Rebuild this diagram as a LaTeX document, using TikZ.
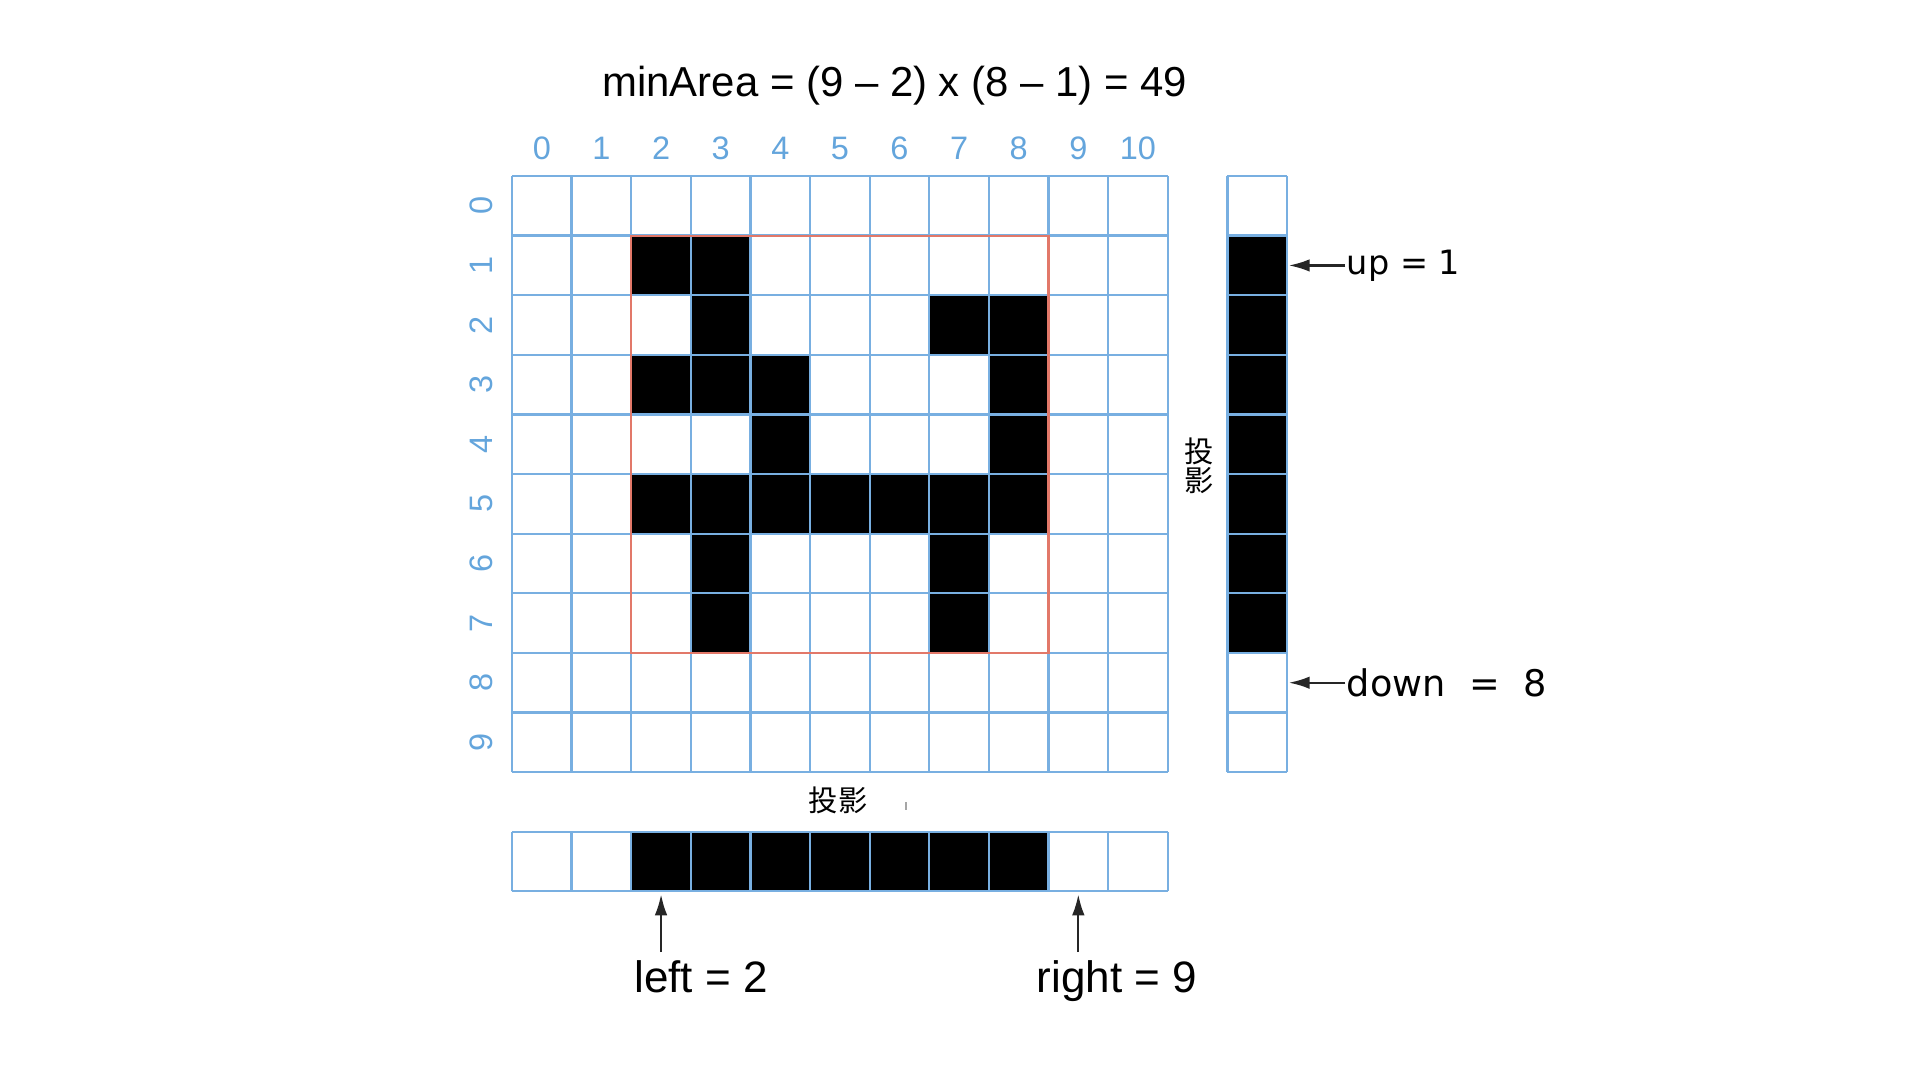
\documentclass[tikz,border=0pt]{standalone}
\usepackage{fontspec}
\setmainfont{Liberation Sans}
\newfontfamily\cjk{Noto Sans CJK SC}
\newfontfamily\dejavu{DejaVu Sans}
\usetikzlibrary{arrows.meta}

\begin{document}
\begin{tikzpicture}[
  gridline/.style={draw=gridblue, line width=1.1pt},
  numlbl/.style={text=numblue, font=\fontsize{15.5}{18}\selectfont, inner sep=0pt},
  bigtxt/.style={font=\fontsize{21}{25}\selectfont, inner sep=4pt},
  ptr/.style={-{Latex[length=10pt,width=6pt]}, line width=1.1pt, black!85}
]
% Grid dimensions
\def\cols{11}
\def\rows{10}

% Colors
\definecolor{gridblue}{RGB}{120,175,225}
\definecolor{numblue}{RGB}{100,165,220}
\definecolor{boxred}{RGB}{226,120,105}

\useasboundingbox (-8.59,2.953) rectangle (23.62,-15.168);

% Black cells of the shape (column/row)
\foreach \c/\r in {2/1,3/1,3/2,7/2,8/2,2/3,3/3,4/3,8/3,4/4,8/4,
                   2/5,3/5,4/5,5/5,6/5,7/5,8/5,3/6,7/6,3/7,7/7} {
  \fill[black] (\c,-\r) rectangle (\c+1,-\r-1);
}

% Projections
\fill[black] (12,-1) rectangle (13,-8);
\fill[black] (2,-11) rectangle (9,-12);

% Draw grid
\draw[gridline] (0,0) grid (\cols,-\rows);
\draw[gridline] (12,0) grid (13,-\rows);
\draw[gridline] (0,-11) grid (\cols,-12);

% Bounding rectangle of the shape
\draw[boxred, line width=1pt] (2,-1) rectangle (9,-8);

% Indices
\foreach \x in {0,...,10} {
  \node[numlbl] (col\x) at (\x+0.5,0.47) {\x};
}
\foreach \y in {0,...,9} {
  \node[numlbl, rotate=90] (row\y) at (-0.52,-\y-0.5) {\y};
}

% Title
\node[font=\fontsize{20}{24}\selectfont, inner sep=0pt] (minarea) at (6.42,1.51)
  {minArea = (9 – 2) x (8 – 1) = 49};

% Projection labels
\node[font=\cjk\fontsize{14}{14}\selectfont, align=center, inner sep=0pt] (projv) at (11.53,-4.86) {投\\影};
\node[font=\cjk\fontsize{14}{16}\selectfont, inner sep=0pt] (projh) at (5.47,-10.47) {投影};
\draw[gray!70, line width=0.6pt] (6.61,-10.50) -- (6.61,-10.64);

% up / down
\coordinate (upcell) at (13.03,-1.5);
\coordinate (downcell) at (13.03,-8.5);
\node[font=\dejavu\fontsize{16}{19}\selectfont, anchor=west, inner sep=0.5pt] (uplbl) at (13.98,-1.5) {up = 1};
\node[font=\dejavu\fontsize{17.5}{21}\selectfont, anchor=west, inner sep=0.5pt] (downlbl) at (13.98,-8.5) {down\ \ =\ \ 8};
\draw[ptr] (uplbl.west) -- (upcell |- uplbl.west);
\draw[ptr] (downlbl.west) -- (downcell |- downlbl.west);

% left / right
\coordinate (leftcell) at (2.5,-12.05);
\coordinate (rightcell) at (9.5,-12.05);
\node[bigtxt, anchor=base] (leftlbl) at (3.17,-13.70) {left = 2};
\node[bigtxt, anchor=base] (rightlbl) at (10.15,-13.70) {right = 9};
\draw[ptr] (leftcell |- leftlbl.north) -- (leftcell);
\draw[ptr] (rightcell |- rightlbl.north) -- (rightcell);

\end{tikzpicture}
\end{document}
